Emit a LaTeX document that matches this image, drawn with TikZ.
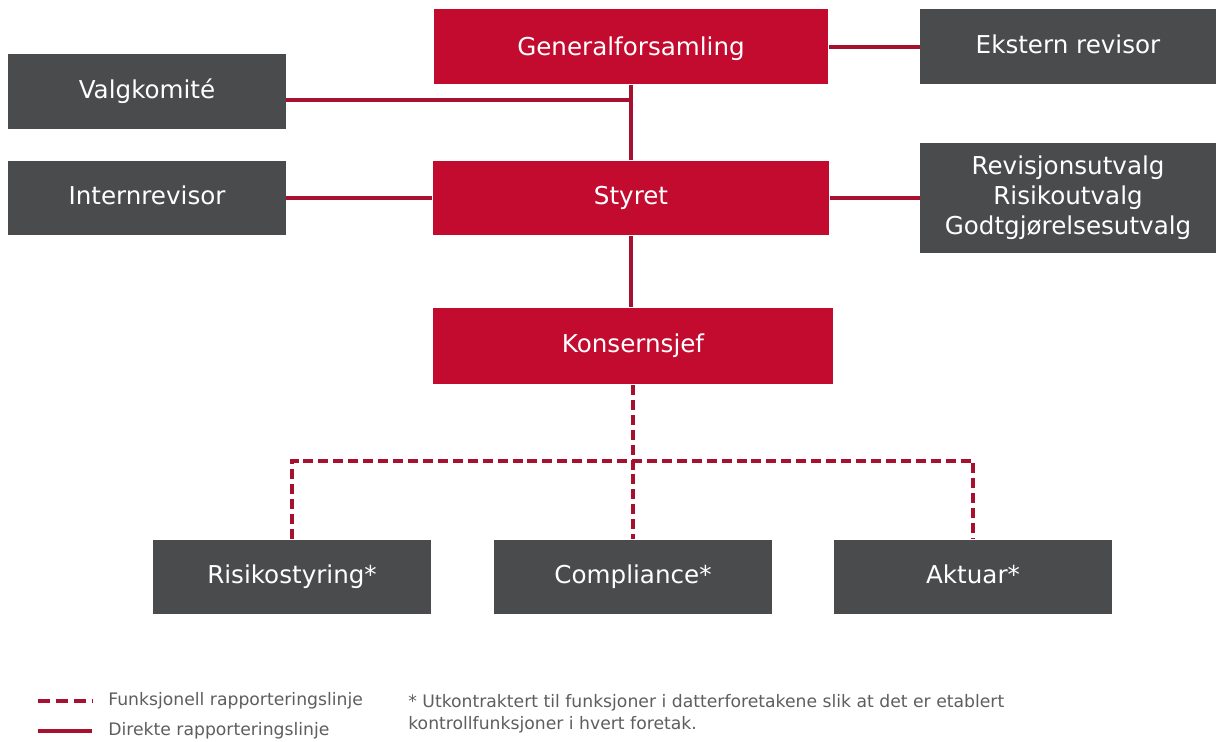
\documentclass[tikz,border=0pt]{standalone}
\usepackage{fontspec}
\setmainfont{DejaVu Sans}
\usetikzlibrary{positioning}
\definecolor{boardred}{HTML}{C30B30}
\definecolor{boxgrey}{HTML}{4A4B4D}
\definecolor{linered}{HTML}{A8102F}
\definecolor{notegrey}{HTML}{5E5E5E}

\begin{document}
\begin{tikzpicture}[x=0.02cm,y=-0.02cm,
  red node/.style={rectangle,fill=boardred,text=white,inner sep=0pt,minimum height=1.5cm,
    text height=0.93em,text depth=0.2em,font=\fontsize{14}{17}\selectfont},
  grey node/.style={rectangle,fill=boxgrey,text=white,inner sep=0pt,minimum height=1.5cm,
    text height=0.93em,text depth=0.2em,font=\fontsize{14}{17}\selectfont},
  direct/.style={draw=linered,line width=2pt},
  functional/.style={draw=linered,line width=2.3pt,dash pattern=on 5.7pt off 2.8pt},
  legend text/.style={text=notegrey,inner sep=0pt,font=\fontsize{9.8}{12}\selectfont}]

  \useasboundingbox (0,0) rectangle (1216,742);

  \node[red node,minimum width=7.9cm,text height=1.15em] (gf) at (631,47) {Generalforsamling};
  \node[grey node,minimum width=5.92cm] (ext) at (1068,47) {Ekstern revisor};
  \node[grey node,minimum width=5.56cm] (valg) at (147,92) {Valgkomité};
  \node[grey node,minimum width=5.56cm] (intern) at (147,198) {Internrevisor};
  \node[red node,minimum width=7.94cm] (styret) at (631,198) {Styret};
  \node[grey node,minimum width=5.92cm,minimum height=2.22cm,align=center,text height=,text depth=] (utvalg) at (1068,198)
    {Revisjonsutvalg\\Risikoutvalg\\Godtgjørelsesutvalg};
  \node[red node,minimum width=8cm,minimum height=1.54cm] (ksj) at (633,346) {Konsernsjef};
  \node[grey node,minimum width=5.56cm] (risk) at (292,577) {Risikostyring*};
  \node[grey node,minimum width=5.56cm] (comp) at (633,577) {Compliance*};
  \node[grey node,minimum width=5.56cm] (akt) at (973,577) {Aktuar*};

  \coordinate (vjoin) at (631,100);
  \coordinate (split) at (633,461);

  % direct lines
  \path[direct]
    (gf) edge (ext)
    (gf) edge (styret)
    (valg.east |- vjoin) edge (vjoin)
    (intern) edge (styret)
    (styret) edge (utvalg)
    (styret) edge (styret |- ksj.north);

  % functional lines
  \draw[functional] (ksj) -- (comp);
  \draw[functional] (risk.north) -- (risk.north |- split) -- (akt.north |- split) -- (akt.north);

  % legend
  \coordinate (fa) at (38,701);
  \coordinate (fb) at (92,701);
  \coordinate (da) at (38,731);
  \coordinate (db) at (92,731);
  \draw[draw=linered,line width=2.6pt,dash pattern=on 7pt off 3.2pt] (fa) -- (fb);
  \draw[draw=linered,line width=2.6pt] (da) -- (db);
  \node[legend text,anchor=west] (leg1) at (108,701) {Funksjonell rapporteringslinje};
  \node[legend text,anchor=west] (leg2) at (108,731) {Direkte rapporteringslinje};
  \node[legend text,anchor=base west,align=left] (note) at (408,729)
    {* Utkontraktert til funksjoner i datterforetakene slik at det er etablert\\kontrollfunksjoner i hvert foretak.};
\end{tikzpicture}
\end{document}
